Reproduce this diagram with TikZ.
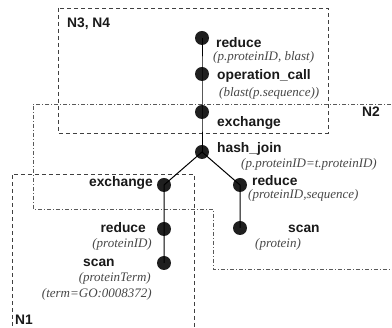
\documentclass[tikz,border=0pt]{standalone}
\usepackage{fontspec}
\setmainfont{Liberation Serif}
\setsansfont{Liberation Sans}
\usetikzlibrary{positioning}

\begin{document}
\begin{tikzpicture}[x=1pt, y=-1pt, node distance=36pt,
    op/.style={circle, fill=black!88, inner sep=0pt, minimum size=14pt},
    opname/.style={font=\sffamily\bfseries\fontsize{13.8}{15}\selectfont, text=black!90, inner sep=0pt},
    oparg/.style={font=\itshape\fontsize{13}{15}\selectfont, text=black!72, inner sep=0pt},
    site/.style={font=\sffamily\bfseries\fontsize{13.8}{15}\selectfont, text=black!90, inner sep=0pt},
    flow/.style={line width=1pt, black},
    sitebox/.style={line width=0.9pt, black!75, dash pattern=on 4pt off 3pt},
    sitepath/.style={line width=0.8pt, black!65, dash pattern=on 4pt off 2pt on 1pt off 2pt}]
    \useasboundingbox (0,0) rectangle (392,328);
    \clip (0,0) rectangle (392,328);

    % sites
    \draw[sitebox] (12,340) |- (194,174) -- (194,340);
    \draw[sitepath] (400,104) -| (33,209) -| (213,269) -- (400,269);
    \draw[sitebox] (58,8) rectangle (328,133);

    % operators
    \node[op] (red1) at (202,38) {};
    \node[op, below of=red1] (call) {};
    \node[op, below of=call, node distance=38pt] (exch1) {};
    \node[op, below of=exch1, node distance=40pt] (join) {};
    \node[op] (exch2) at (164,185) {};
    \node[op, below of=exch2, node distance=44pt] (red2) {};
    \node[op, below of=red2, node distance=34pt] (scan2) {};
    \node[op] (red3) at (240,185) {};
    \node[op, below of=red3, node distance=43pt] (scan3) {};

    \draw[flow] (red1.center) -- (call.center) -- (exch1.center) -- (join.center);
    \draw[flow] (join.center) -- (exch2.center) -- (red2.center) -- (scan2.center);
    \draw[flow] (join.center) -- (red3.center) -- (scan3.center);

    % labels
    \node[opname, anchor=base west] (red1name) at (216,48) {reduce};
    \node[oparg, anchor=base west] (red1arg) at (213,61) {(p.proteinID, blast)};
    \node[opname, anchor=base west] (callname) at (217,80) {operation\_call};
    \node[oparg, anchor=base west] (callarg) at (219,97) {(blast(p.sequence))};
    \node[opname, anchor=base west] (exch1name) at (217,127) {exchange};
    \node[opname, anchor=base west] (joinname) at (217,153) {hash\_join};
    \node[oparg, anchor=base west] (joinarg) at (241,168) {(p.proteinID=t.proteinID)};
    \node[opname, anchor=base east] (exch2name) at (153,187) {exchange};
    \node[opname, anchor=base east] (red2name) at (146,233) {reduce};
    \node[oparg, anchor=base east] (red2arg) at (152,248) {(proteinID)};
    \node[opname, anchor=base west] (scan2name) at (83,267) {scan};
    \node[oparg, anchor=base east] (scan2arg) at (151,282) {(proteinTerm)};
    \node[oparg, anchor=base east] (scan2cond) at (152,298) {(term=GO:0008372)};
    \node[opname, anchor=base west] (red3name) at (252,186) {reduce};
    \node[oparg, anchor=base west] (red3arg) at (248,199) {(proteinID,sequence)};
    \node[opname, anchor=base west] (scan3name) at (288,233) {scan};
    \node[oparg, anchor=base west] (scan3arg) at (255,248) {(protein)};

    \node[site, anchor=base west] (n34) at (67,28) {N3, N4};
    \node[site, anchor=base west] (n2) at (362,117) {N2};
    \node[site, anchor=base west] (n1) at (15,325) {N1};
\end{tikzpicture}
\end{document}
